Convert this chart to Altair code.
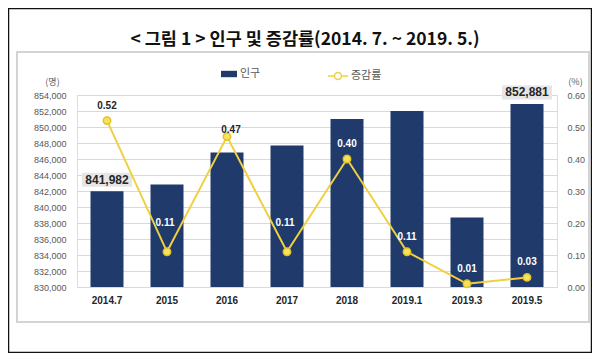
import altair as alt
import pandas as pd

categories = ["2014.7", "2015", "2016", "2017", "2018", "2019.1", "2019.3", "2019.5"]
population = [841982, 842800, 846800, 847700, 851000, 852000, 838700, 852881]
rate = [0.52, 0.11, 0.47, 0.11, 0.40, 0.11, 0.01, 0.03]
left_ticks = list(range(830000, 854001, 2000))
right_ticks = [0.0, 0.1, 0.2, 0.3, 0.4, 0.5, 0.6]

df = pd.DataFrame({
    "cat": categories,
    "pop": population,
    "rate": rate,
    "s1": ["인구"] * len(categories),
    "s2": ["증감률"] * len(categories),
})

NAVY = "#1F3A6B"
YEL = "#EFD040"
KFONT = "Noto Sans CJK KR"
NFONT = "Liberation Sans"

x = alt.X("cat:N", sort=categories, title=None,
          scale=alt.Scale(paddingInner=0.45, paddingOuter=0.225),
          axis=alt.Axis(labelAngle=0, labelFont=NFONT, labelFontWeight="bold",
                        labelFontSize=10, labelColor="#262626", labelPadding=8,
                        ticks=False, domain=False))

base = alt.Chart(df)

ypop = alt.Y("pop:Q", scale=alt.Scale(domain=[830000, 854000], zero=False, nice=False),
             axis=alt.Axis(orient="left", values=left_ticks, grid=True,
                           labelExpr="format(datum.value, ',')",
                           gridColor="#D9D9D9", domain=False, ticks=False,
                           labelOverlap=False,
                           labelFont=NFONT, labelFontSize=9, labelColor="#595959",
                           labelPadding=11, title="(명)", titleAngle=0, titleX=-25,
                           titleY=-14, titleAlign="center", titleBaseline="middle",
                           titleFont=KFONT, titleFontSize=9, titleFontWeight="normal",
                           titleColor="#595959"))

bars = base.mark_bar(clip=True).encode(
    x=x,
    y=ypop,
    y2=alt.datum(830000),
    color=alt.Color("s1:N", scale=alt.Scale(domain=["인구"], range=[NAVY]),
                    legend=alt.Legend(orient="none", legendX=143, legendY=-30, title=None,
                                      symbolType="M-1,-0.4L1,-0.4L1,0.4L-1,0.4Z",
                                      symbolSize=256, labelOffset=2, labelFont=KFONT,
                                      labelFontSize=11, labelColor="#595959")),
)

label_filter = alt.FieldOneOfPredicate(field="cat", oneOf=["2014.7", "2019.5"])
label_bg = base.transform_filter(label_filter).mark_point(
    shape="M-1,-0.28L1,-0.28L1,0.28L-1,0.28Z", size=2500, filled=True,
    color="#E6E6E6", opacity=1, yOffset=-11.5).encode(x=x, y=ypop)
label_txt = base.transform_filter(label_filter).mark_text(
    font=NFONT, fontSize=12, fontWeight="bold", color="#262626", dy=-11.5,
    baseline="middle").encode(x=x, y=ypop, text=alt.Text("pop:Q", format=","))

frame = alt.Chart(alt.Data(values=[{}])).mark_rect(
    filled=False, stroke="#111111", strokeWidth=1.5).encode(
    x=alt.value(-68.5), x2=alt.value(514.5), y=alt.value(-86.5), y2=alt.value(257.5))
inner = alt.Chart(alt.Data(values=[{}])).mark_rect(
    filled=False, stroke="#D4D4D4", strokeWidth=2).encode(
    x=alt.value(-60), x2=alt.value(512), y=alt.value(-43), y2=alt.value(227))

yrate = alt.Y("rate:Q", scale=alt.Scale(domain=[0, 0.6], nice=False),
              axis=alt.Axis(orient="right", values=right_ticks, format=".2f", grid=False,
                            domain=False, ticks=False, labelFont=NFONT, labelFontSize=9,
                            labelColor="#595959", labelPadding=10, title="(%)",
                            titleAngle=0, titleX=18, titleY=-14, titleAlign="center",
                            titleBaseline="middle", titleFont=KFONT, titleFontSize=9,
                            titleFontWeight="normal", titleColor="#595959"))

line = base.mark_line(strokeWidth=2).encode(
    x=x, y=yrate,
    stroke=alt.Stroke("s2:N", scale=alt.Scale(domain=["증감률"], range=[YEL]),
                      legend=alt.Legend(orient="none", legendX=250, legendY=-30, title=None,
                                        symbolType="M-1,0L-0.35,0M0.35,0L1,0M-0.35,0A0.35,0.35,0,1,1,0.35,0A0.35,0.35,0,1,1,-0.35,0",
                                        symbolSize=400, symbolStrokeWidth=1.5,
                                        symbolFillColor="white", labelOffset=2,
                                        labelFont=KFONT, labelFontSize=11,
                                        labelColor="#595959")),
)
points = base.mark_point(filled=True, size=55, fill="#F7E35A", stroke="#E3C02A",
                         strokeWidth=1.5, opacity=1).encode(x=x, y=yrate)

dark = alt.FieldOneOfPredicate(field="cat", oneOf=["2014.7", "2016"])
color_cond = alt.condition(dark, alt.value("#262626"), alt.value("white"))

def rate_text(cats, dy, dx=0):
    return base.transform_filter(alt.FieldOneOfPredicate(field="cat", oneOf=cats)).mark_text(
        font=NFONT, fontSize=10, fontWeight="bold", dy=dy, dx=dx, baseline="middle").encode(
        x=x, y=yrate, text=alt.Text("rate:Q", format=".2f"), color=color_cond)

t1 = rate_text(["2014.7", "2018", "2019.1", "2019.3", "2019.5"], -15)
t2 = rate_text(["2015", "2017"], -29, -2)
t3 = rate_text(["2016"], -7, 4)

left_group = alt.layer(inner, frame, bars, label_bg, label_txt)
right_group = alt.layer(line, points, t1, t2, t3)

chart = alt.layer(left_group, right_group).resolve_scale(
    y="independent", color="independent", stroke="independent"
).properties(
    width=480, height=192,
    title=alt.TitleParams("< 그림 1 > 인구 및 증감률(2014. 7. ~ 2019. 5.)", font=KFONT,
                          fontSize=17.5, fontWeight="bold", color="#111111",
                          anchor="middle", dx=-12, dy=41, offset=0),
    autosize=alt.AutoSizeParams(type="none"),
    padding={"left": 69, "top": 87, "right": 35, "bottom": 66},
).configure_view(stroke=None).configure(background="white")

chart.save("out.html", embed_options={"renderer": "svg", "actions": False})
